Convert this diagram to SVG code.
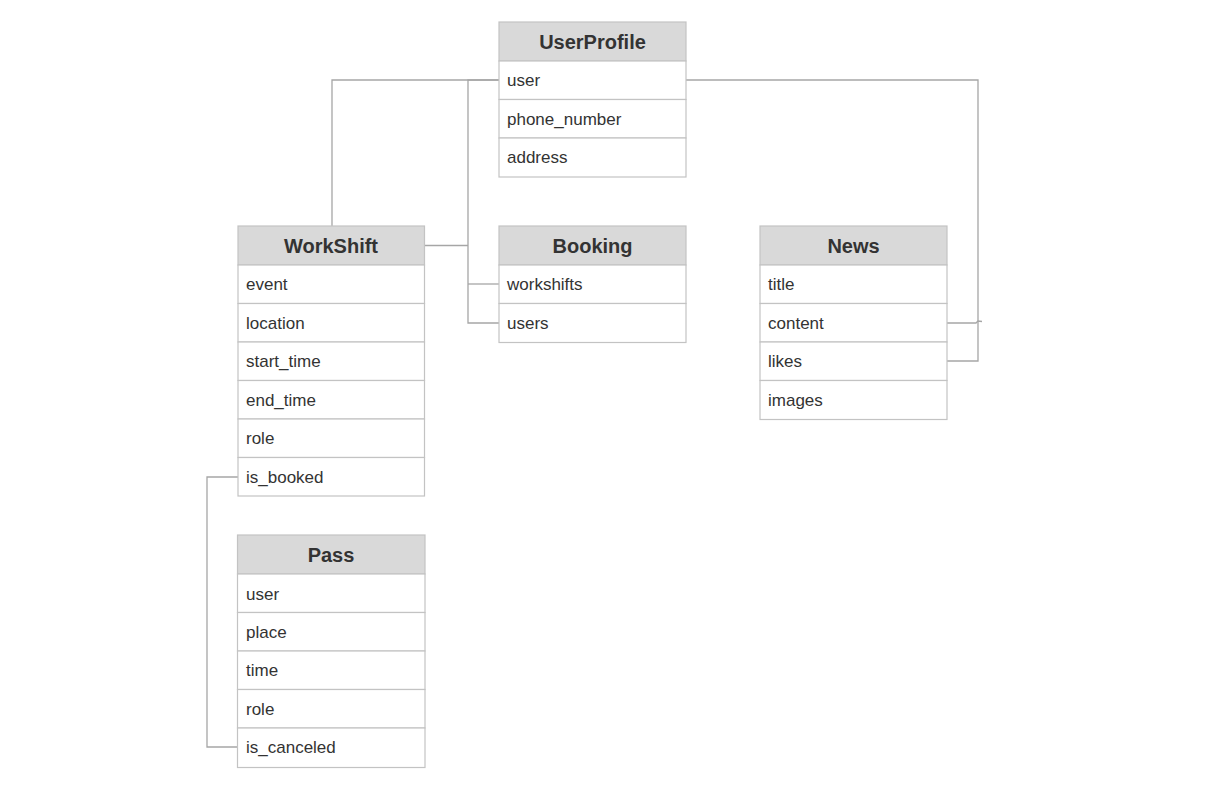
<svg xmlns="http://www.w3.org/2000/svg" width="1224" height="798" viewBox="0 0 1224 798">
<style>
.hd{fill:#d9d9d9;stroke:#c3c3c3;stroke-width:1.2}
.rw{fill:#ffffff;stroke:#c3c3c3;stroke-width:1.2}
.ht{font-family:"Liberation Sans",Arial,sans-serif;font-size:20px;font-weight:bold;fill:#333333;text-anchor:middle}
.rt{font-family:"Liberation Sans",Arial,sans-serif;font-size:17px;fill:#333333}
.cn{fill:none;stroke:#a6a6a6;stroke-width:1.3}
</style>
<rect width="1224" height="798" fill="#ffffff"/>
<g id="connectors">
<polyline class="cn" points="499,80 332,80 332,226"/>
<polyline class="cn" points="499,80 468,80 468,323 499,323"/>
<line class="cn" x1="468" y1="284" x2="499" y2="284"/>
<line class="cn" x1="424" y1="245.5" x2="468" y2="245.5"/>
<polyline class="cn" points="686,80 978,80 978,361 947,361"/>
<polyline class="cn" points="947,323 976,323 978,321 982,321.5"/>
<polyline class="cn" points="238,477 207,477 207,747 237,747"/>
</g>
<g id="UserProfile">
<rect class="hd" x="499" y="22" width="187" height="39"/>
<text class="ht" x="592.5" y="49">UserProfile</text>
<rect class="rw" x="499" y="61" width="187" height="38.5"/>
<text class="rt" x="507" y="86">user</text>
<rect class="rw" x="499" y="99.5" width="187" height="38.5"/>
<text class="rt" x="507" y="125">phone_number</text>
<rect class="rw" x="499" y="138" width="187" height="39"/>
<text class="rt" x="507" y="163">address</text>
</g>
<g id="WorkShift">
<rect class="hd" x="238" y="226" width="186.5" height="39"/>
<text class="ht" x="331" y="253">WorkShift</text>
<rect class="rw" x="238" y="265" width="186.5" height="38.5"/>
<text class="rt" x="246" y="290">event</text>
<rect class="rw" x="238" y="303.5" width="186.5" height="38.5"/>
<text class="rt" x="246" y="329">location</text>
<rect class="rw" x="238" y="342" width="186.5" height="38.5"/>
<text class="rt" x="246" y="367">start_time</text>
<rect class="rw" x="238" y="380.5" width="186.5" height="38.5"/>
<text class="rt" x="246" y="406">end_time</text>
<rect class="rw" x="238" y="419" width="186.5" height="38.5"/>
<text class="rt" x="246" y="444">role</text>
<rect class="rw" x="238" y="457.5" width="186.5" height="38.5"/>
<text class="rt" x="246" y="483">is_booked</text>
</g>
<g id="Booking">
<rect class="hd" x="499" y="226" width="187" height="39"/>
<text class="ht" x="592.5" y="253">Booking</text>
<rect class="rw" x="499" y="265" width="187" height="38.5"/>
<text class="rt" x="507" y="290">workshifts</text>
<rect class="rw" x="499" y="303.5" width="187" height="39"/>
<text class="rt" x="507" y="329">users</text>
</g>
<g id="News">
<rect class="hd" x="760" y="226" width="187" height="39"/>
<text class="ht" x="853.5" y="253">News</text>
<rect class="rw" x="760" y="265" width="187" height="38.5"/>
<text class="rt" x="768" y="290">title</text>
<rect class="rw" x="760" y="303.5" width="187" height="38.5"/>
<text class="rt" x="768" y="329">content</text>
<rect class="rw" x="760" y="342" width="187" height="38.5"/>
<text class="rt" x="768" y="367">likes</text>
<rect class="rw" x="760" y="380.5" width="187" height="39"/>
<text class="rt" x="768" y="406">images</text>
</g>
<g id="Pass">
<rect class="hd" x="237.5" y="535" width="187.5" height="39"/>
<text class="ht" x="331" y="562">Pass</text>
<rect class="rw" x="237.5" y="574" width="187.5" height="38.5"/>
<text class="rt" x="246" y="600">user</text>
<rect class="rw" x="237.5" y="612.5" width="187.5" height="38.5"/>
<text class="rt" x="246" y="638">place</text>
<rect class="rw" x="237.5" y="651" width="187.5" height="38.5"/>
<text class="rt" x="246" y="676">time</text>
<rect class="rw" x="237.5" y="689.5" width="187.5" height="38.5"/>
<text class="rt" x="246" y="715">role</text>
<rect class="rw" x="237.5" y="728" width="187.5" height="39.5"/>
<text class="rt" x="246" y="753">is_canceled</text>
</g>
</svg>
